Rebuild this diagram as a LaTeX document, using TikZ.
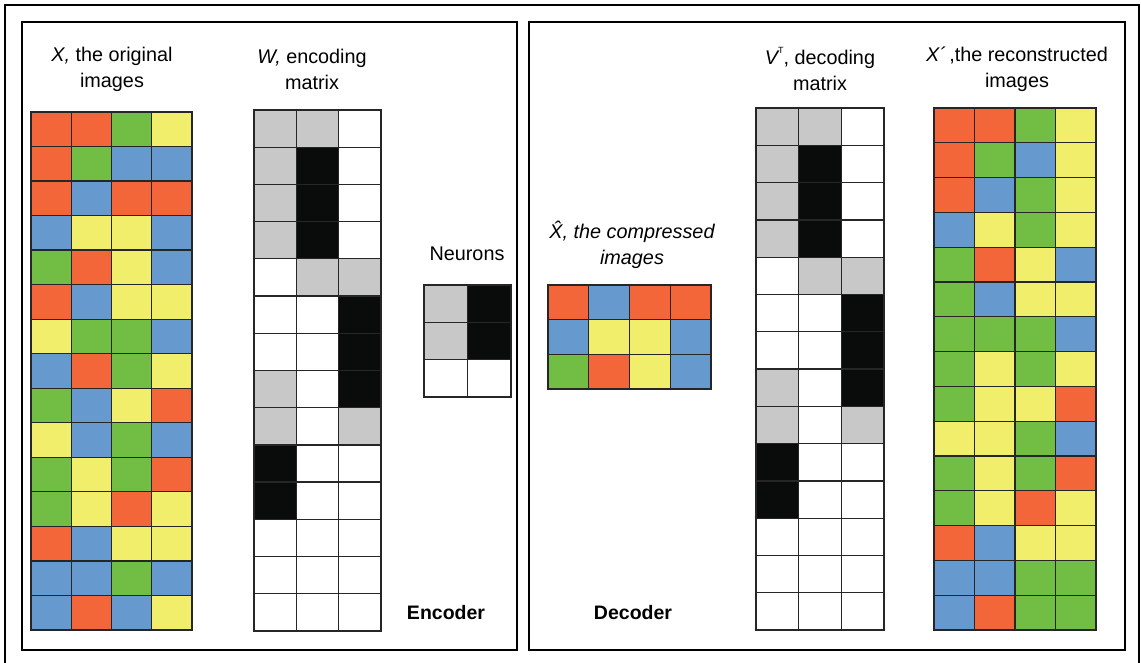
\documentclass[tikz,border=0pt]{standalone}
\usepackage{fontspec}
\setmainfont{Liberation Sans}
\definecolor{cO}{HTML}{F26639}
\definecolor{cB}{HTML}{6699CE}
\definecolor{cG}{HTML}{72BE44}
\definecolor{cY}{HTML}{F1EE6B}
\definecolor{cg}{HTML}{C8C8C8}
\definecolor{ck}{HTML}{0A0C0C}
\definecolor{cw}{HTML}{FFFFFF}
\newcommand\cellgrid[5]{%
  \foreach \row [count=\r from 0] in {#5} {
    \foreach \c [count=\k from 0] in \row {
      \filldraw[cellline, fill=c\c] ({#1+\k*#3},{#2+\r*#4}) rectangle ++(#3,#4);
    }
  }%
}
\begin{document}
\begin{tikzpicture}[x=1pt,y=-1pt,
  cellline/.style={draw=black!85,line width=1.3pt},
  frame/.style={draw=black,line width=2pt},
  lbl/.style={align=center,inner sep=0pt,font=\fontsize{19.8}{26}\selectfont},
  blbl/.style={inner sep=0pt,font=\fontsize{19.5}{26}\selectfont\bfseries}]
\useasboundingbox (0,0) rectangle (1141,663);
\fill[white] (0,0) rectangle (1141,663);
% frames
\draw[frame] (5,5) rectangle (1139,675);
\draw[frame] (22,22) rectangle (517,650);
\draw[frame] (529,22) rectangle (1125,650);
% X
\cellgrid{31}{112}{40.25}{34.53}{{O,O,G,Y},{O,G,B,B},{O,B,O,O},{B,Y,Y,B},{G,O,Y,B},{O,B,Y,Y},{Y,G,G,B},{B,O,G,Y},{G,B,Y,O},{Y,B,G,B},{G,Y,G,O},{G,Y,O,Y},{O,B,Y,Y},{B,B,G,B},{B,O,B,Y}}
% W
\cellgrid{254}{110}{42.33}{37.21}{{g,g,w},{g,k,w},{g,k,w},{g,k,w},{w,g,g},{w,w,k},{w,w,k},{g,w,k},{g,w,g},{k,w,w},{k,w,w},{w,w,w},{w,w,w},{w,w,w}}
% Neurons
\cellgrid{424}{285}{43.5}{37.3}{{g,k},{g,k},{w,w}}
% X hat
\cellgrid{548}{285}{40.75}{34.67}{{O,B,O,O},{B,Y,Y,B},{G,O,Y,B}}
% V^T
\cellgrid{756}{108}{42.67}{37.29}{{g,g,w},{g,k,w},{g,k,w},{g,k,w},{w,g,g},{w,w,k},{w,w,k},{g,w,k},{g,w,g},{k,w,w},{k,w,w},{w,w,w},{w,w,w},{w,w,w}}
% X'
\cellgrid{934}{108}{40.5}{34.8}{{O,O,G,Y},{O,G,B,Y},{O,B,G,Y},{B,Y,G,Y},{G,O,Y,B},{G,B,Y,Y},{G,G,G,B},{G,Y,G,Y},{G,Y,Y,O},{Y,Y,G,B},{G,Y,G,O},{G,Y,O,Y},{O,B,Y,Y},{B,B,G,G},{B,O,G,G}}
% labels
\node[lbl] (xlab) at (112,69) {{\itshape X,} the original\\images};
\node[lbl] (wlab) at (312,69) {{\itshape W,} encoding\\matrix};
\node[lbl] (nlab) at (467,254) {Neurons};
\node[lbl] (xhlab) at (632,245) {\itshape X^^^^0302, the compressed\\\itshape images};
\node[lbl] (vlab) at (820,69) {{\itshape V}\raisebox{0.55em}{\fontsize{9}{9}\selectfont T}, decoding\\matrix};
\node[lbl] (xplab) at (1017,69) {{\itshape X´}\,,the reconstructed\\images};
\node[blbl] (enc) at (446,613) {Encoder};
\node[blbl] (dec) at (633,613) {Decoder};
\end{tikzpicture}
\end{document}
